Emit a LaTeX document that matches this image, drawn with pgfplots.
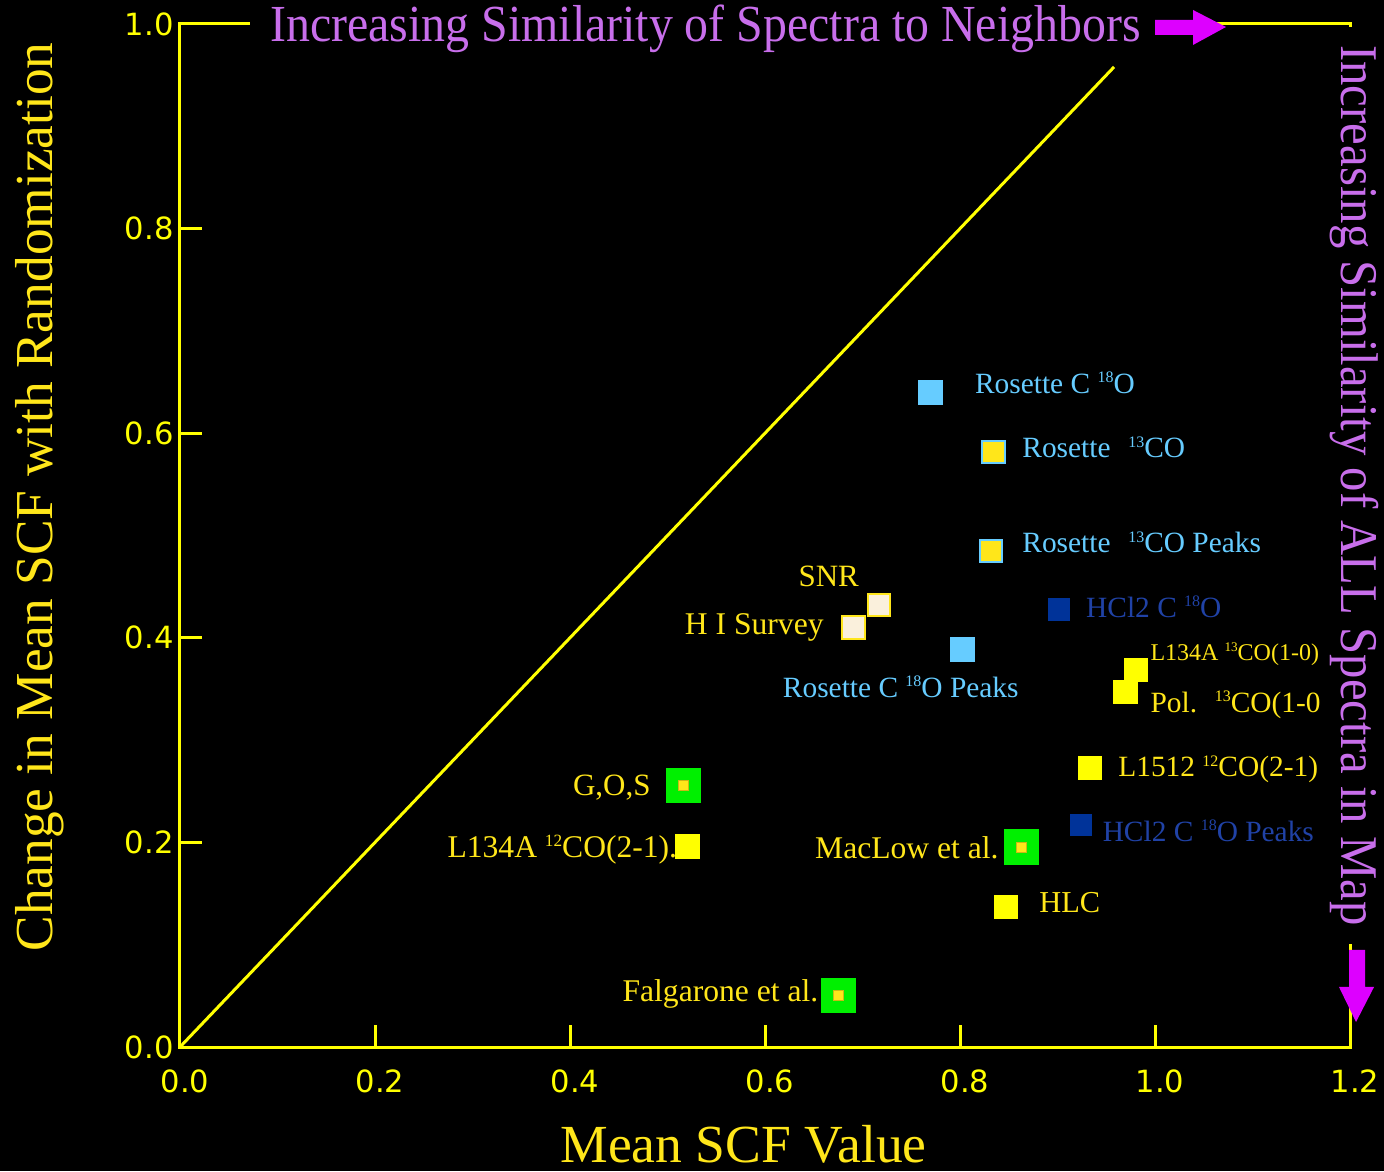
\documentclass[border=0pt]{standalone}
\usepackage{fontspec}
\setmainfont{Liberation Serif}
\newfontfamily\sansnum{DejaVu Sans}
\newfontfamily\condserif[FakeStretch=0.92]{Liberation Serif}
\usepackage{pgfplots}
\pgfplotsset{compat=1.18}

\definecolor{ayel}{HTML}{FFFF00}
\definecolor{tyel}{HTML}{FFE61A}
\definecolor{purp}{HTML}{C86EEB}
\definecolor{magarrow}{HTML}{DD00FF}
\definecolor{lblue}{HTML}{66CCFF}
\definecolor{dblue}{HTML}{003399}
\definecolor{dbluetext}{HTML}{2042A6}
\definecolor{grn}{HTML}{00F000}
\definecolor{cream}{HTML}{FAF0DC}

% small raised isotope numbers
\newcommand\sups[2][8]{\raisebox{0.36em}{\fontsize{#1}{#1}\selectfont #2}}

\tikzset{lab/.style={font=\fontsize{14.7}{16}\selectfont, inner sep=0pt},
         bigl/.style={font=\fontsize{15.8}{17}\selectfont, inner sep=0pt}}

\begin{document}
\begin{tikzpicture}
\fill[black] (-90pt,-62pt) rectangle (602pt,523.5pt);
\useasboundingbox (-90pt,-62pt) rectangle (602pt,523.5pt);
\begin{axis}[
  at={(0pt,0pt)}, anchor=south west,
  scale only axis, width=585pt, height=511.5pt,
  xmin=0, xmax=1.2, ymin=0, ymax=1,
  clip=false,
  axis line style={ayel, line width=1.5pt},
  tick style={ayel, line width=1.5pt},
  major tick length=11pt,
  tick pos=left,
  xtick={0,0.2,0.4,0.6,0.8,1.0,1.2},
  xticklabels={0.0,0.2,0.4,0.6,0.8,1.0,1.2},
  ytick={0,0.2,0.4,0.6,0.8,1.0},
  yticklabels={0.0,0.2,0.4,0.6,0.8,1.0},
  ticklabel style={font=\sansnum\fontsize{15.3}{16}\selectfont, text=ayel, inner sep=0pt},
  xticklabel style={anchor=north, yshift=-11pt, xshift=2.5pt},
  yticklabel style={anchor=east, xshift=-3pt},
]

% reference line y = x
\addplot[ayel, line width=1.5pt] coordinates {(0,0) (0.958,0.958)};

% point labels
\node[lab, text=lblue, anchor=base west] at (axis cs:0.815,0.639) {Rosette C \sups{18}O};
\node[lab, text=lblue, anchor=base west] at (axis cs:0.8636,0.576) {Rosette\hspace{0.6em}\sups{13}CO};
\node[lab, text=lblue, anchor=base west] at (axis cs:0.8636,0.483) {Rosette\hspace{0.6em}\sups{13}CO Peaks};
\node[bigl, font=\fontsize{15.5}{17}\selectfont, text=tyel, anchor=base west] at (axis cs:0.634,0.4497) {SNR};
\node[bigl, text=tyel, anchor=base east] at (axis cs:0.6605,0.4037) {H I Survey};
\node[lab, text=lblue, anchor=base west] at (axis cs:0.618,0.342) {Rosette C \sups{18}O Peaks};
\node[lab, text=dbluetext, anchor=base west] at (axis cs:0.929,0.420) {HCl2 C \sups{18}O};
\node[lab, text=tyel, anchor=base west, font=\fontsize{12}{14}\selectfont] at (axis cs:0.995,0.378) {L134A \sups[6.6]{13}CO(1-0)};
\node[lab, text=tyel, anchor=base west] at (axis cs:0.995,0.327) {Pol.\hspace{0.6em}\sups{13}CO(1-0};
\node[lab, text=tyel, anchor=base west] at (axis cs:0.962,0.264) {L1512 \sups{12}CO(2-1)};
\node[lab, text=dbluetext, anchor=base west] at (axis cs:0.946,0.201) {HCl2 C \sups{18}O Peaks};
\node[bigl, font=\fontsize{15.5}{17}\selectfont, text=tyel, anchor=base east] at (axis cs:0.483,0.246) {G,O,S};
\node[bigl, text=tyel, anchor=base west] at (axis cs:0.274,0.185) {L134A \sups[8.6]{12}CO(2-1).};
\node[bigl, text=tyel, anchor=base east] at (axis cs:0.840,0.184) {MacLow et al.};
\node[bigl, font=\fontsize{15.2}{17}\selectfont, text=tyel, anchor=base west] at (axis cs:0.881,0.131) {HLC};
\node[bigl, text=tyel, anchor=base east] at (axis cs:0.655,0.044) {Falgarone et al.};

% yellow squares
\addplot[only marks, mark=square*, mark size=5.8pt, mark options={draw=ayel, fill=ayel}]
  coordinates {(0.9805,0.369) (0.9697,0.347) (0.933,0.273) (0.5205,0.196) (0.847,0.137)};
% light blue squares
\addplot[only marks, mark=square*, mark size=6pt, mark options={draw=lblue, fill=lblue}]
  coordinates {(0.7697,0.6398) (0.8026,0.3886)};
% yellow with blue border
\addplot[only marks, mark=square*, mark size=5.6pt, mark options={draw=lblue, fill=tyel, line width=1pt}]
  coordinates {(0.8344,0.5816) (0.8318,0.4848)};
% cream with yellow border
\addplot[only marks, mark=square*, mark size=5.6pt, mark options={draw=tyel, fill=cream, line width=1pt}]
  coordinates {(0.7169,0.4321) (0.6908,0.4101)};
% dark blue
\addplot[only marks, mark=square*, mark size=5.4pt, mark options={draw=dblue, fill=dblue}]
  coordinates {(0.9015,0.428) (0.924,0.217)};
% green with yellow centre
\addplot[only marks, mark=square*, mark size=8.6pt, mark options={draw=grn, fill=grn}]
  coordinates {(0.5164,0.2556) (0.863,0.1955) (0.675,0.0503)};
\addplot[only marks, mark=square*, mark size=2.6pt, mark options={draw=tyel!80!black, fill=tyel, line width=0.3pt}]
  coordinates {(0.5164,0.2556) (0.863,0.1955) (0.675,0.0503)};

% titles on black patches over the frame
\node[font=\condserif\fontsize{26}{28}\selectfont, text=purp, fill=black,
      anchor=base west, inner xsep=10pt, inner ysep=4pt]
  at (axis cs:0.0718,0.9824) {Increasing Similarity of Spectra to Neighbors};
\node[font=\condserif\fontsize{26.5}{28}\selectfont, text=purp, fill=black, rotate=-90,
      anchor=base west, inner xsep=9pt, inner ysep=3pt]
  at (axis cs:1.1908,0.9971) {Increasing Similarity of ALL Spectra in Map};
\end{axis}

% axis titles
\node[font=\fontsize{26.8}{28}\selectfont, text=tyel, anchor=base west, inner sep=0pt]
  at (190pt,-57.5pt) {Mean SCF Value};
\node[font=\fontsize{26.7}{28}\selectfont, text=tyel, anchor=base west, inner sep=0pt, rotate=90]
  at (-63.5pt,47.5pt) {Change in Mean SCF with Randomization};

% arrows
\fill[magarrow] (487.5pt,513.5pt) -- (506.5pt,513.5pt) -- (506.5pt,518.5pt) -- (523pt,510pt)
  -- (506.5pt,501pt) -- (506.5pt,506pt) -- (487.5pt,506pt) -- cycle;
\fill[magarrow] (584.5pt,48.5pt) -- (592.5pt,48.5pt) -- (592.5pt,30pt) -- (597pt,30pt)
  -- (588pt,12.5pt) -- (579.5pt,30pt) -- (584.5pt,30pt) -- cycle;
\end{tikzpicture}
\end{document}
